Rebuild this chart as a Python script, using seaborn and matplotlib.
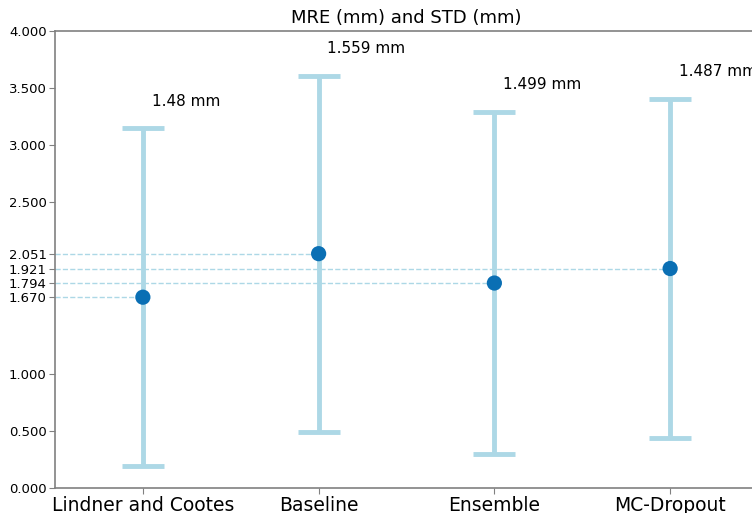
import matplotlib
matplotlib.use("Agg")
import matplotlib.pyplot as plt
import seaborn as sns
import pandas as pd
import numpy as np

methods = ["Lindner and Cootes", "Baseline", "Ensemble", "MC-Dropout"]
mre = [1.670, 2.051, 1.794, 1.921]
std = [1.48, 1.559, 1.499, 1.487]
std_labels = ["1.48 mm", "1.559 mm", "1.499 mm", "1.487 mm"]
yticks = [0.0, 0.5, 1.0, 1.670, 1.794, 1.921, 2.051, 2.5, 3.0, 3.5, 4.0]

df = pd.DataFrame({"method": methods, "mre": mre, "std": std})
df["x"] = np.arange(len(methods))

sns.set_style("white")
plt.rcParams["text.color"] = "black"
plt.rcParams["xtick.color"] = "#808080"
plt.rcParams["ytick.color"] = "#808080"
plt.rcParams["xtick.labelcolor"] = "black"
plt.rcParams["ytick.labelcolor"] = "black"
fig = plt.figure(figsize=(7.52, 5.13), dpi=100)
ax = fig.add_axes([55/752, 25/513, 703/752, 457/513])

ax.errorbar(df["x"], df["mre"], yerr=df["std"], fmt="none", ecolor="#add8e6",
            elinewidth=3.5, capsize=15, capthick=3.5, zorder=2)
for xi, m in zip(df["x"], df["mre"]):
    ax.plot([-0.5, xi], [m, m], ls="--", color="#add8e6", lw=1, zorder=1)
sns.scatterplot(data=df, x="x", y="mre", color="#0a6fb4", s=120, edgecolor="none",
                ax=ax, zorder=3, legend=False)
for xi, m, s, lab in zip(df["x"], df["mre"], df["std"], std_labels):
    ax.text(xi + 0.05, m + s + 0.17, lab, fontsize=11, va="bottom", ha="left",
            color="black")

ax.set_xlim(-0.5, 3.5)
ax.set_ylim(0, 4)
ax.set_xticks(df["x"])
ax.set_xticklabels(methods, fontsize=13.5, color="black")
ax.set_yticks(yticks)
ax.set_yticklabels([f"{v:.3f}" for v in yticks], fontsize=9.5, color="black")
ax.set_xlabel("")
ax.set_ylabel("")
ax.set_title("MRE (mm) and STD (mm)", fontsize=13, color="black")
ax.tick_params(axis="both", which="both", length=4, direction="out",
               bottom=True, left=True, pad=2)
for sp in ax.spines.values():
    sp.set_color("#808080")
    sp.set_linewidth(1.2)
ax.spines["right"].set_visible(False)

fig.savefig("out.png", dpi=100)
